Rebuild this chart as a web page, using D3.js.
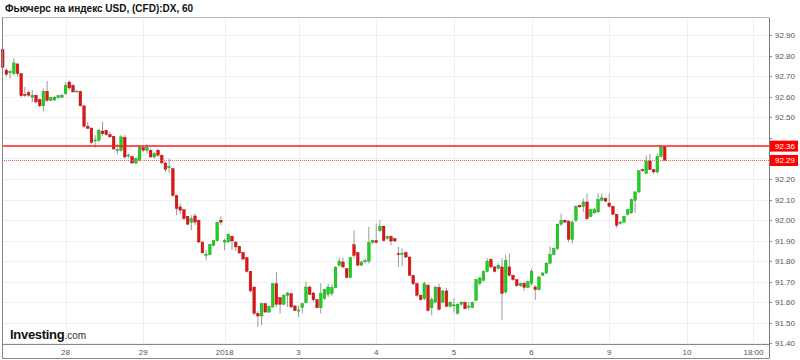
<!DOCTYPE html>
<html><head><meta charset="utf-8">
<script src="https://cdn.jsdelivr.net/npm/d3@7/dist/d3.min.js"></script>
<style>body{margin:0;background:#fff} svg{display:block}</style>
</head><body>
<svg id="c" width="800" height="360"></svg>
<script>
// Hourly candles (index 0..179)
const openV = [92.83,92.73,92.72,92.713,92.76,92.713,92.612,92.62,92.598,92.608,92.587,92.556,92.627,92.583,92.585,92.597,92.598,92.616,92.672,92.656,
92.626,92.627,92.556,92.457,92.448,92.388,92.389,92.433,92.437,92.416,92.408,92.343,92.34,92.402,92.316,92.31,92.278,92.291,92.353,92.34,
92.34,92.307,92.34,92.316,92.278,92.258,92.25,92.12,92.064,92.05,92.018,91.99,92.02,91.999,91.893,91.832,91.832,91.877,91.90,91.999,
91.893,91.893,91.921,91.893,91.872,91.842,91.817,91.75,91.674,91.545,91.533,91.593,91.552,91.577,91.69,91.622,91.59,91.634,91.642,91.582,
91.56,91.574,91.598,91.674,91.645,91.612,91.573,91.618,91.638,91.642,91.671,91.78,91.796,91.764,91.72,91.88,91.842,91.78,91.80,91.80,
91.89,91.90,91.948,91.97,91.91,91.92,91.91,91.837,91.835,91.842,91.82,91.731,91.69,91.634,91.617,91.682,91.573,91.60,91.672,91.60,
91.655,91.58,91.585,91.546,91.59,91.60,91.58,91.573,91.609,91.692,91.707,91.75,91.808,91.772,91.764,91.772,91.65,91.772,91.731,91.71,
91.68,91.692,91.672,91.692,91.674,91.661,91.731,91.742,91.79,91.832,91.862,91.98,91.999,91.995,91.906,91.999,92.072,92.067,92.088,92.018,
92.035,92.04,92.096,92.105,92.083,92.067,92.028,91.983,91.99,92.028,92.035,92.096,92.137,92.246,92.227,92.288,92.246,92.234,92.31,92.356];
const highV = [92.84,92.74,92.73,92.787,92.765,92.715,92.648,92.632,92.632,92.61,92.592,92.64,92.677,92.60,92.605,92.61,92.615,92.672,92.68,92.66,
92.632,92.63,92.558,92.478,92.45,92.413,92.445,92.478,92.44,92.43,92.41,92.37,92.413,92.413,92.324,92.312,92.305,92.36,92.36,92.37,
92.348,92.33,92.348,92.318,92.283,92.30,92.255,92.122,92.08,92.055,92.02,92.023,92.032,92.003,91.895,91.852,91.885,91.905,91.992,92.018,
91.91,91.935,91.926,91.895,91.875,91.845,91.82,91.752,91.676,91.557,91.596,91.597,91.585,91.693,91.747,91.626,91.64,91.65,91.645,91.585,
91.585,91.597,91.70,91.68,91.65,91.615,91.692,91.665,91.69,91.69,91.775,91.817,91.817,91.766,91.82,91.95,91.845,91.80,91.813,91.967,
91.905,91.983,91.999,91.972,91.925,91.925,91.912,91.87,91.862,91.85,91.822,91.735,91.695,91.636,91.70,91.69,91.625,91.678,91.69,91.66,
91.67,91.605,91.62,91.595,91.605,91.603,91.60,91.603,91.712,91.723,91.755,91.815,91.815,91.775,91.79,91.815,91.83,91.837,91.735,91.712,
91.695,91.70,91.705,91.764,91.682,91.728,91.747,91.795,91.872,91.866,91.983,92.032,92.003,91.999,91.999,92.072,92.075,92.105,92.13,92.055,
92.06,92.13,92.13,92.11,92.13,92.07,92.03,91.995,92.02,92.055,92.105,92.14,92.243,92.25,92.315,92.323,92.25,92.323,92.36,92.358];
const lowV = [92.74,92.70,92.69,92.705,92.70,92.60,92.60,92.60,92.575,92.567,92.55,92.53,92.575,92.578,92.58,92.59,92.594,92.608,92.632,92.62,
92.622,92.553,92.45,92.444,92.372,92.353,92.38,92.41,92.41,92.40,92.34,92.32,92.332,92.30,92.30,92.272,92.272,92.288,92.332,92.325,
92.304,92.30,92.307,92.275,92.234,92.23,92.115,92.023,92.028,92.0,91.975,91.95,91.975,91.89,91.837,91.804,91.828,91.872,91.895,91.975,
91.853,91.89,91.853,91.85,91.835,91.805,91.744,91.65,91.536,91.48,91.487,91.548,91.547,91.573,91.577,91.545,91.585,91.577,91.573,91.556,
91.528,91.545,91.595,91.634,91.60,91.57,91.545,91.612,91.625,91.63,91.668,91.772,91.764,91.716,91.716,91.814,91.776,91.776,91.788,91.788,
91.885,91.885,91.942,91.897,91.905,91.877,91.894,91.772,91.775,91.815,91.727,91.682,91.625,91.607,91.609,91.555,91.536,91.598,91.56,91.598,
91.577,91.575,91.55,91.54,91.585,91.565,91.565,91.57,91.607,91.68,91.70,91.745,91.765,91.745,91.76,91.512,91.64,91.725,91.705,91.675,
91.675,91.655,91.668,91.682,91.612,91.656,91.728,91.74,91.787,91.828,91.853,91.97,91.985,91.893,91.885,91.99,92.06,92.04,91.999,92.013,
92.03,92.035,92.09,92.088,92.062,92.025,91.963,91.978,91.985,92.022,92.03,92.035,92.13,92.235,92.225,92.244,92.226,92.226,92.305,92.287];
const closeV = [92.744,92.71,92.722,92.765,92.713,92.605,92.61,92.608,92.608,92.575,92.556,92.627,92.583,92.597,92.597,92.605,92.608,92.656,92.643,92.624,
92.628,92.556,92.457,92.446,92.377,92.39,92.437,92.42,92.416,92.405,92.346,92.344,92.405,92.307,92.317,92.278,92.30,92.356,92.34,92.353,
92.307,92.324,92.316,92.278,92.247,92.26,92.12,92.056,92.048,92.007,91.98,92.007,91.99,91.893,91.84,91.833,91.88,91.90,91.99,91.99,
91.90,91.93,91.898,91.869,91.84,91.81,91.75,91.655,91.545,91.533,91.593,91.552,91.58,91.69,91.59,91.59,91.634,91.645,91.577,91.56,
91.562,91.593,91.674,91.638,91.612,91.573,91.642,91.662,91.674,91.671,91.771,91.80,91.772,91.72,91.817,91.828,91.78,91.796,91.802,91.89,
91.90,91.891,91.97,91.90,91.92,91.898,91.898,91.835,91.838,91.82,91.731,91.69,91.634,91.612,91.69,91.56,91.612,91.674,91.565,91.655,
91.58,91.60,91.587,91.59,91.60,91.568,91.581,91.60,91.71,91.718,91.75,91.80,91.772,91.75,91.78,91.643,91.804,91.731,91.71,91.68,
91.692,91.672,91.70,91.75,91.661,91.723,91.742,91.79,91.832,91.862,91.98,91.999,91.99,91.906,91.99,92.067,92.064,92.088,92.007,92.05,
92.05,92.10,92.108,92.092,92.067,92.028,91.975,91.99,92.018,92.05,92.10,92.137,92.24,92.24,92.288,92.246,92.234,92.31,92.356,92.29];

const yTicks = [92.90,92.80,92.70,92.60,92.50,92.40,92.30,92.20,92.10,92.00,91.90,91.80,91.70,91.60,91.50,91.40];
const xTickIdx = [17,38,60,80,101,122,143,164,185,203];
const xTickLabels = ["28","29","2018","3","4","5","6","9","10","18:00"];
const priceLines = [92.36, 92.29];
const titleText = "Фьючерс на индекс USD, (CFD):DX, 60";

const L = 2, R = 769, T = 17.5, B = 344.5, AXB = 358.5;
const svg = d3.select("#c");
const x = d3.scaleLinear().domain([-0.19, 207.2]).range([L, R]);
const y = d3.scaleLinear().domain([91.40, 92.90]).range([343.3, 35.2]);
const font = "Arial, 'Liberation Sans', sans-serif";

// title
svg.append("text").attr("x", 5).attr("y", 12).attr("font-family", font)
  .attr("font-size", 10).attr("font-weight", "bold").attr("fill", "#111").text(titleText);

// grid
const g = svg.append("g");
g.selectAll("line.hg").data(yTicks).join("line")
  .attr("x1", L).attr("x2", R).attr("y1", d => Math.round(y(d)) + 0.5).attr("y2", d => Math.round(y(d)) + 0.5)
  .attr("stroke", "#efefef").attr("stroke-width", 1);
g.selectAll("line.vg").data(xTickIdx).join("line")
  .attr("x1", d => Math.round(x(d)) + 0.5).attr("x2", d => Math.round(x(d)) + 0.5).attr("y1", T).attr("y2", B)
  .attr("stroke", "#efefef").attr("stroke-width", 1);

// candles
const idx = d3.range(openV.length);
const cg = svg.append("g");
cg.selectAll("line.w").data(idx).join("line")
  .attr("x1", i => x(i)).attr("x2", i => x(i))
  .attr("y1", i => y(highV[i])).attr("y2", i => y(lowV[i]))
  .attr("stroke", "#9a9a9a").attr("stroke-width", 1);
const bw = 2.7;
cg.selectAll("rect.b").data(idx).join("rect")
  .attr("x", i => x(i) - bw / 2).attr("width", bw)
  .attr("y", i => y(Math.max(openV[i], closeV[i])))
  .attr("height", i => Math.max(1, Math.abs(y(openV[i]) - y(closeV[i]))))
  .attr("fill", i => closeV[i] >= openV[i] ? "#1fd01f" : "#e21414")
  .attr("stroke", i => closeV[i] >= openV[i] ? "#139a13" : "#a80d0d")
  .attr("stroke-width", 0.4);

// price lines
svg.append("line").attr("x1", L).attr("x2", R).attr("y1", y(priceLines[0])).attr("y2", y(priceLines[0]))
  .attr("stroke", "#ff1a1a").attr("stroke-width", 1.5);
svg.append("line").attr("x1", L).attr("x2", R).attr("y1", y(priceLines[1])).attr("y2", y(priceLines[1]))
  .attr("stroke", "#ff5a5a").attr("stroke-width", 1).attr("stroke-dasharray", "1,1");

// frame
const fr = svg.append("g").attr("fill", "none");
fr.append("line").attr("x1", L).attr("x2", R).attr("y1", T).attr("y2", T).attr("stroke", "#bbb");
fr.append("line").attr("x1", L + 0.5).attr("x2", L + 0.5).attr("y1", T).attr("y2", AXB).attr("stroke", "#888");
fr.append("line").attr("x1", R + 0.5).attr("x2", R + 0.5).attr("y1", T).attr("y2", AXB).attr("stroke", "#777");
fr.append("line").attr("x1", L).attr("x2", R).attr("y1", B).attr("y2", B).attr("stroke", "#888");
fr.append("line").attr("x1", L).attr("x2", R).attr("y1", AXB).attr("y2", AXB).attr("stroke", "#888");

// y axis ticks and labels (labels hidden behind the price flags are not drawn)
const visibleY = yTicks.filter(d => priceLines.every(p => Math.abs(y(d) - y(p)) > 9));
svg.selectAll("line.yt").data(yTicks).join("line")
  .attr("x1", R).attr("x2", R + 3).attr("y1", d => Math.round(y(d)) + 0.5).attr("y2", d => Math.round(y(d)) + 0.5)
  .attr("stroke", "#888");
svg.selectAll("text.yl").data(visibleY).join("text")
  .attr("x", R + 6).attr("y", d => y(d) + 3).attr("font-family", font).attr("font-size", 8)
  .attr("fill", "#555").text(d => d.toFixed(2));

// x labels
svg.selectAll("text.xl").data(xTickIdx).join("text")
  .attr("x", d => x(d)).attr("y", 354.5).attr("text-anchor", "middle").attr("font-family", font)
  .attr("font-size", 8).attr("fill", "#555").text((d, i) => xTickLabels[i]);

// price labels
priceLines.forEach(p => {
  svg.append("rect").attr("x", R + 1).attr("y", y(p) - 5.5).attr("width", 28).attr("height", 11).attr("fill", "#ff0000");
  svg.append("text").attr("x", R + 6).attr("y", y(p) + 3).attr("font-family", font).attr("font-size", 8)
    .attr("fill", "#fff").text(p.toFixed(2));
});

// logo
const logo = svg.append("text").attr("x", 10).attr("y", 339).attr("font-family", font);
logo.append("tspan").attr("font-size", 13).attr("font-weight", "bold").attr("fill", "#111").attr("letter-spacing", -0.3).text("Investing");
logo.append("tspan").attr("font-size", 10).attr("fill", "#333").text(".com");
</script>
</body></html>
